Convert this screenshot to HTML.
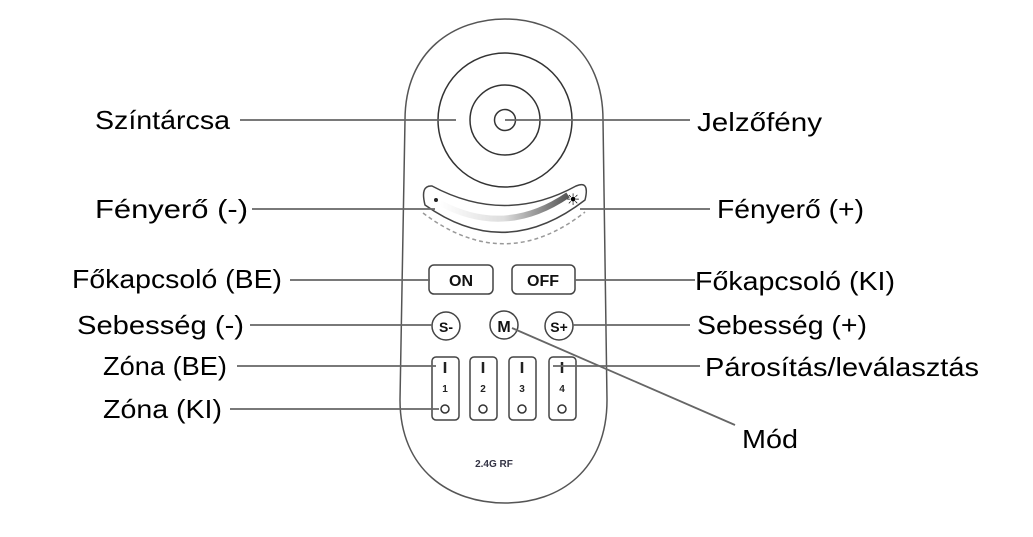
<!DOCTYPE html>
<html><head><meta charset="utf-8"><style>
html,body{margin:0;padding:0;background:#fff;width:1033px;height:537px;overflow:hidden}
text{font-family:"Liberation Sans",sans-serif}
</style></head><body>
<svg width="1033" height="537" viewBox="0 0 1033 537" xmlns="http://www.w3.org/2000/svg">
<defs>
<linearGradient id="g" x1="0" x2="1" y1="0" y2="0">
<stop offset="0" stop-color="#fff"/><stop offset="0.5" stop-color="#ddd"/><stop offset="1" stop-color="#555"/>
</linearGradient>
</defs>
<g fill="none" stroke="#555" stroke-width="1.5">
<path d="M405,120 C405,50 455,19 505,19 C555,19 603,50 603,120 L607,400 C607,470 560,503 505,503 C450,503 400,470 400,400 Z"/>
<circle cx="505" cy="120" r="67" stroke="#333"/>
<circle cx="505" cy="120" r="35" stroke="#333"/>
<circle cx="505" cy="120" r="10.5" stroke="#333"/>
<path d="M432,186 Q505,225 576,186 Q590,180 585,200 Q505,262 425,205 Q420,185 432,186 Z" stroke="#444"/>
<path d="M440,203 Q505,238 568,195" stroke="url(#g)" stroke-width="6"/>
<path d="M423,213 Q505,275 585,212" stroke="#999" stroke-dasharray="4,3"/>
<rect x="429" y="265" width="64" height="29" rx="5" stroke="#444"/>
<rect x="512" y="265" width="63" height="29" rx="5" stroke="#444"/>
<circle cx="446" cy="326" r="14" stroke="#444"/>
<circle cx="504" cy="325" r="14" stroke="#444"/>
<circle cx="559" cy="326" r="14" stroke="#444"/>
<rect x="432" y="357" width="27" height="63" rx="4" stroke="#444"/>
<rect x="470" y="357" width="27" height="63" rx="4" stroke="#444"/>
<rect x="509" y="357" width="27" height="63" rx="4" stroke="#444"/>
<rect x="549" y="357" width="27" height="63" rx="4" stroke="#444"/>
<circle cx="445" cy="409" r="4" stroke="#333"/><circle cx="483" cy="409" r="4" stroke="#333"/>
<circle cx="522" cy="409" r="4" stroke="#333"/><circle cx="562" cy="409" r="4" stroke="#333"/>
</g>
<g stroke="#222" stroke-width="2.5">
<line x1="445" y1="362" x2="445" y2="373"/><line x1="483" y1="362" x2="483" y2="373"/>
<line x1="522" y1="362" x2="522" y2="373"/><line x1="562" y1="362" x2="562" y2="373"/>
</g>
<circle cx="436" cy="200" r="2" fill="#222"/>
<text x="573" y="205" font-size="16" text-anchor="middle">☀</text>
<g font-size="16" font-weight="bold" text-anchor="middle" fill="#111">
<text x="461" y="286">ON</text><text x="543" y="286">OFF</text>
<text x="446" y="332" font-size="14">S-</text><text x="504" y="332">M</text><text x="559" y="332" font-size="14">S+</text>
</g>
<g font-size="10" font-weight="bold" text-anchor="middle" fill="#222">
<text x="445" y="392">1</text><text x="483" y="392">2</text><text x="522" y="392">3</text><text x="562" y="392">4</text>
<text x="494" y="467" fill="#334" font-size="10">2.4G RF</text>
</g>
<g stroke="#666" stroke-width="1.8">
<line x1="240" y1="120" x2="456" y2="120"/>
<line x1="505" y1="120" x2="690" y2="120"/>
<line x1="252" y1="209" x2="435" y2="209"/>
<line x1="580" y1="209" x2="710" y2="209"/>
<line x1="290" y1="280" x2="430" y2="280"/>
<line x1="575" y1="280" x2="695" y2="280"/>
<line x1="250" y1="325" x2="432" y2="325"/>
<line x1="573" y1="325" x2="690" y2="325"/>
<line x1="237" y1="366" x2="436" y2="366"/>
<line x1="553" y1="366" x2="700" y2="366"/>
<line x1="230" y1="409" x2="439" y2="409"/>
<line x1="512" y1="328" x2="735" y2="425"/>
</g>
<g font-size="26" fill="#000" lengthAdjust="spacingAndGlyphs">
<text x="95" y="129" textLength="135" lengthAdjust="spacingAndGlyphs">Színtárcsa</text>
<text x="697" y="131" textLength="125" lengthAdjust="spacingAndGlyphs">Jelzőfény</text>
<text x="95" y="218" textLength="153" lengthAdjust="spacingAndGlyphs">Fényerő (-)</text>
<text x="717" y="218" textLength="147" lengthAdjust="spacingAndGlyphs">Fényerő (+)</text>
<text x="72" y="288" textLength="210" lengthAdjust="spacingAndGlyphs">Főkapcsoló (BE)</text>
<text x="695" y="290" textLength="200" lengthAdjust="spacingAndGlyphs">Főkapcsoló (KI)</text>
<text x="77" y="334" textLength="167" lengthAdjust="spacingAndGlyphs">Sebesség (-)</text>
<text x="697" y="334" textLength="170" lengthAdjust="spacingAndGlyphs">Sebesség (+)</text>
<text x="103" y="375" textLength="124" lengthAdjust="spacingAndGlyphs">Zóna (BE)</text>
<text x="705" y="376" textLength="274" lengthAdjust="spacingAndGlyphs">Párosítás/leválasztás</text>
<text x="103" y="418" textLength="119" lengthAdjust="spacingAndGlyphs">Zóna (KI)</text>
<text x="742" y="448" textLength="56" lengthAdjust="spacingAndGlyphs">Mód</text>
</g>
</svg>
</body></html>
